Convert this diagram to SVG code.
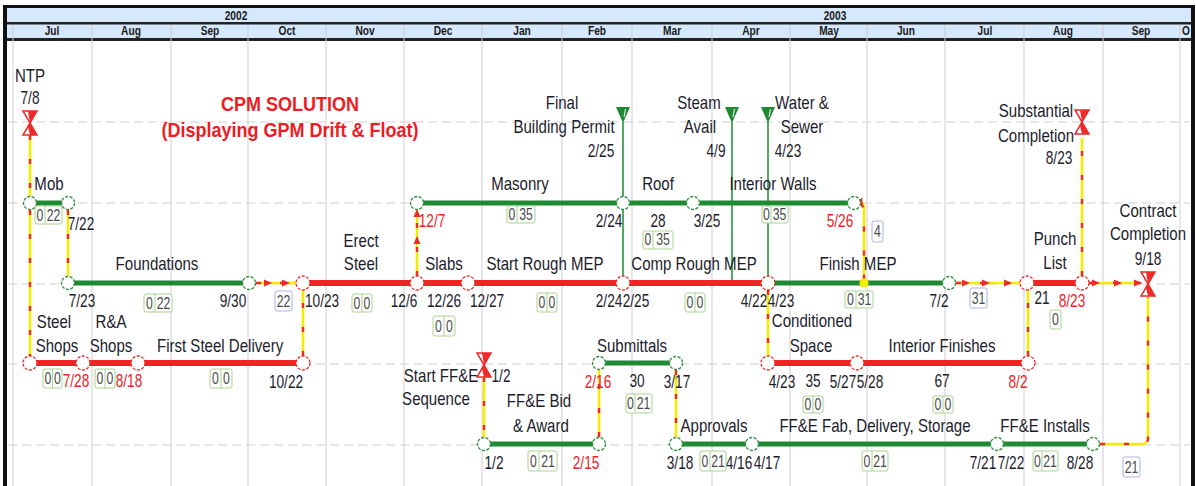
<svg xmlns="http://www.w3.org/2000/svg" xmlns:xlink="http://www.w3.org/1999/xlink" width="1196" height="486" viewBox="0 0 1196 486">
<style>
text{font-family:"Liberation Sans",Arial,sans-serif;text-anchor:middle;transform-box:fill-box;transform-origin:center}
.t{font-size:17.5px;fill:#1c1c2c;transform:scaleX(.86)}
.d{transform:scaleX(.78)}
.r{fill:#ee2227}
.ti{font-size:20px;font-weight:bold;fill:#ee1c24;transform:scaleX(.9)}
.hd{font-size:12px;font-weight:bold;fill:#1a1a1a;transform:scaleX(.85)}
.fn{font-size:17px;fill:#4a4a4a;transform:scaleX(.72)}
.fb{fill:#fff;stroke:#a9d38f;stroke-width:1}
.bb{fill:#fff;stroke:#aab4e2;stroke-width:1}
.grid{stroke:#cfcfcf;stroke-width:1}
.hgrid{stroke:#cfcfcf;stroke-width:1;stroke-dasharray:9 5}
.gb{stroke:#1e8b34;stroke-width:5}
.rb{stroke:#ee2524;stroke-width:6}
.gn{fill:#fff;stroke:#2a8c3c;stroke-width:1.3;stroke-dasharray:3 1.5}
.rn{fill:#fff;stroke:#ee2a2a;stroke-width:1.3;stroke-dasharray:3 1.5}
.cy{fill:none;stroke:#f3ec00;stroke-width:2.6}
.cd{fill:none;stroke:#ee2a2a;stroke-width:2.4;stroke-dasharray:5 19}
.gl{stroke:#1e8b34;stroke-width:1.5}
</style>
<defs>
<marker id="ar" viewBox="0 0 8 8" refX="4" refY="4" markerWidth="8" markerHeight="8" markerUnits="userSpaceOnUse" orient="auto"><path d="M0,0.5 L8,4 L0,7.5z" fill="#ee2a2a"/></marker>
<g id="hg">
<polygon points="-7,-12 7,-12 0,0" fill="#fff" stroke="#ee2a2a" stroke-width="1.5"/>
<polygon points="-2,-12 7,-12 0,0" fill="#ee2a2a"/>
<polygon points="-7,12 7,12 0,0" fill="#fff" stroke="#ee2a2a" stroke-width="1.5"/>
<polygon points="0,12 7,12 0,0 -2,4" fill="#ee2a2a"/>
</g>
<g id="gm">
<polygon points="-7,0 7,0 0,16" fill="#1e8b34"/>
<line x1="2.5" y1="2" x2="1" y2="10" stroke="#fff" stroke-width="1"/>
</g>
</defs>

<rect width="1196" height="486" fill="#fff"/>

<g id="header">
<rect x="4" y="8" width="1187" height="14" fill="#d6e8fb"/>
<rect x="4" y="24" width="1187" height="14" fill="#d6e8fb"/>
<rect x="3" y="5" width="1192" height="3" fill="#111"/>
<rect x="3" y="22" width="1189" height="2.5" fill="#222"/>
<rect x="3" y="38" width="1189" height="3" fill="#222"/>
<rect x="3" y="5" width="4" height="481" fill="#111"/>
<rect x="1191" y="5" width="4" height="481" fill="#111"/>
<text class="hd" x="236" y="20">2002</text>
<text class="hd" x="835" y="20">2003</text>
<text class="hd" x="52" y="35">Jul</text>
<text class="hd" x="131" y="35">Aug</text>
<text class="hd" x="210" y="35">Sep</text>
<text class="hd" x="287" y="35">Oct</text>
<text class="hd" x="365" y="35">Nov</text>
<text class="hd" x="443" y="35">Dec</text>
<text class="hd" x="522" y="35">Jan</text>
<text class="hd" x="597" y="35">Feb</text>
<text class="hd" x="672" y="35">Mar</text>
<text class="hd" x="751" y="35">Apr</text>
<text class="hd" x="829" y="35">May</text>
<text class="hd" x="906" y="35">Jun</text>
<text class="hd" x="985" y="35">Jul</text>
<text class="hd" x="1063" y="35">Aug</text>
<text class="hd" x="1141" y="35">Sep</text>
<text class="hd" x="1186" y="35">O</text>
</g>

<g id="grid">
<path class="grid" d="M13 25V486M92 25V486M171 25V486M248 25V486M326 25V486M404 25V486M482 25V486M562 25V486M632 25V486M712 25V486M790 25V486M867 25V486M945 25V486M1024 25V486M1103 25V486M1180 25V486"/>
<path class="hgrid" d="M8 122H1190M8 203H1190M8 284H1190M8 364H1190M8 445H1190"/>
</g>

<g id="title">
<text class="ti" x="290" y="111">CPM SOLUTION</text>
<text class="ti" x="290" y="137">(Displaying GPM Drift &amp; Float)</text>
</g>

<g id="connectors">
<path class="gl" d="M623 122V276M732 122V283M768 122V276"/>
<path class="cy" d="M30 135V196"/><path class="cd" d="M30 135V196"/>
<path class="cy" d="M30 210V356"/><path class="cd" d="M30 210V356"/>
<path class="cy" d="M68 210V276"/><path class="cd" d="M68 210V276"/>
<path class="cy" d="M256 283H296"/><path class="cd" d="M256 283L268 283L286 283L296 283" marker-mid="url(#ar)"/>
<path class="cy" d="M303 356V290"/><path class="cd" d="M303 356V290"/>
<path class="cy" d="M417 276V210"/><path class="cd" d="M417 276L417 240L417 213L417 210" marker-mid="url(#ar)"/>
<path class="cy" d="M861 203H860Q864 203 864 208V283"/><path class="cd" d="M861 203L862 205L864 210V283" marker-start="url(#ar)"/>
<path class="cy" d="M768 290V356"/><path class="cd" d="M768 290V356"/>
<path class="cy" d="M956 283H1020"/><path class="cd" d="M956 283L966 283L986 283L1008 283L1020 283" marker-mid="url(#ar)"/>
<path class="cy" d="M1028 356V290"/><path class="cd" d="M1028 356V290"/>
<path class="cy" d="M1082 276V138"/><path class="cd" d="M1082 276V138"/>
<path class="cy" d="M1089 283H1141"/><path class="cd" d="M1089 283L1096 283L1118 283L1138 283L1141 283" marker-mid="url(#ar)"/>
<path class="cy" d="M1100 444H1142Q1148 444 1148 438V297"/><path class="cd" d="M1100 444H1142Q1148 444 1148 438V297"/>
<path class="cy" d="M484 377V437"/><path class="cd" d="M484 377V437"/>
<path class="cy" d="M599 437V370"/><path class="cd" d="M599 437V370"/>
<path class="cy" d="M676 370V437"/><path class="cd" d="M676 370V437"/>
</g>

<g id="ntp">
<use href="#hg" x="30" y="123"/>
<text class="t" x="30" y="82">NTP</text>
<text class="t d" x="30" y="104">7/8</text>
</g>

<g id="mob">
<line class="gb" x1="30" y1="203" x2="68" y2="203"/>
<circle class="gn" cx="30" cy="203" r="6.5"/>
<circle class="gn" cx="68" cy="203" r="6.5"/>
<text class="t" x="49" y="190">Mob</text>
<text class="t d" x="81" y="230">7/22</text>
<rect class="fb" x="35" y="206" width="27" height="18" rx="2"/><line class="fb" x1="45" y1="206" x2="45" y2="224"/>
<text class="fn" x="40" y="221">0</text><text class="fn" x="53.5" y="221">22</text>
</g>

<g id="foundations">
<line class="gb" x1="68" y1="283" x2="249" y2="283"/>
<circle class="gn" cx="68" cy="283" r="6.5"/>
<circle class="gn" cx="249" cy="283" r="6.5"/>
<text class="t" x="157" y="270">Foundations</text>
<text class="t d" x="82" y="307">7/23</text>
<text class="t d" x="233" y="307">9/30</text>
<rect class="fb" x="144" y="294" width="28" height="18" rx="2"/><line class="fb" x1="155" y1="294" x2="155" y2="312"/>
<text class="fn" x="149.5" y="309">0</text><text class="fn" x="163.5" y="309">22</text>
<rect class="bb" x="275" y="291" width="17" height="20" rx="2"/>
<text class="fn" x="283.5" y="307">22</text>
</g>

<g id="erect-steel">
<line class="rb" x1="303" y1="283" x2="417" y2="283"/>
<circle class="rn" cx="303" cy="283" r="7"/>
<text class="t" x="361" y="247">Erect</text>
<text class="t" x="361" y="270">Steel</text>
<text class="t d" x="322" y="307">10/23</text>
<text class="t d" x="404" y="307">12/6</text>
<rect class="fb" x="352" y="294" width="20" height="18" rx="2"/><line class="fb" x1="362" y1="294" x2="362" y2="312"/>
<text class="fn" x="357" y="309">0</text><text class="fn" x="367" y="309">0</text>
</g>

<g id="steel-shops">
<line class="rb" x1="30" y1="363" x2="83" y2="363"/>
<circle class="rn" cx="30" cy="363" r="7"/>
<text class="t" x="54" y="328">Steel</text>
<text class="t" x="57" y="352">Shops</text>
<text class="t d r" x="76" y="387">7/28</text>
<rect class="fb" x="43" y="369" width="19" height="19" rx="2"/><line class="fb" x1="52.5" y1="369" x2="52.5" y2="388"/>
<text class="fn" x="48" y="384">0</text><text class="fn" x="57.5" y="384">0</text>
</g>

<g id="ra-shops">
<line class="rb" x1="83" y1="363" x2="138" y2="363"/>
<circle class="rn" cx="83" cy="363" r="7"/>
<text class="t" x="111" y="328">R&amp;A</text>
<text class="t" x="111" y="352">Shops</text>
<text class="t d r" x="129" y="387">8/18</text>
<rect class="fb" x="95" y="369" width="20" height="19" rx="2"/><line class="fb" x1="105" y1="369" x2="105" y2="388"/>
<text class="fn" x="100" y="384">0</text><text class="fn" x="110" y="384">0</text>
</g>

<g id="first-steel-delivery">
<line class="rb" x1="138" y1="363" x2="303" y2="363"/>
<circle class="rn" cx="138" cy="363" r="7"/>
<circle class="rn" cx="303" cy="363" r="7"/>
<text class="t" x="220" y="352">First Steel Delivery</text>
<text class="t d" x="286" y="388">10/22</text>
<rect class="fb" x="210" y="369" width="22" height="19" rx="2"/><line class="fb" x1="221" y1="369" x2="221" y2="388"/>
<text class="fn" x="215.5" y="384">0</text><text class="fn" x="226.5" y="384">0</text>
</g>

<g id="slabs">
<line class="rb" x1="417" y1="283" x2="468" y2="283"/>
<circle class="rn" cx="417" cy="283" r="7"/>
<text class="t" x="444" y="270">Slabs</text>
<text class="t d" x="444" y="307">12/26</text>
<rect class="fb" x="433" y="316" width="22" height="20" rx="2"/><line class="fb" x1="444" y1="316" x2="444" y2="336"/>
<text class="fn" x="438.5" y="332">0</text><text class="fn" x="449.5" y="332">0</text>
</g>

<g id="start-rough-mep">
<line class="rb" x1="468" y1="283" x2="623" y2="283"/>
<circle class="rn" cx="468" cy="283" r="7"/>
<text class="t" x="545" y="270">Start Rough MEP</text>
<text class="t d" x="487" y="307">12/27</text>
<text class="t d" x="609" y="307">2/24</text>
<rect class="fb" x="537" y="293" width="20" height="19" rx="2"/><line class="fb" x1="547" y1="293" x2="547" y2="312"/>
<text class="fn" x="542" y="308">0</text><text class="fn" x="552" y="308">0</text>
</g>

<g id="comp-rough-mep">
<line class="rb" x1="623" y1="283" x2="768" y2="283"/>
<circle class="rn" cx="623" cy="283" r="7"/>
<circle class="rn" cx="768" cy="283" r="7"/>
<text class="t" x="694" y="270">Comp Rough MEP</text>
<text class="t d" x="636" y="307">2/25</text>
<text class="t d" x="754" y="307">4/22</text>
<rect class="fb" x="685" y="293" width="20" height="19" rx="2"/><line class="fb" x1="695" y1="293" x2="695" y2="312"/>
<text class="fn" x="690" y="308">0</text><text class="fn" x="700" y="308">0</text>
</g>

<g id="finish-mep">
<line class="gb" x1="775" y1="283" x2="949" y2="283"/>
<circle class="gn" cx="949" cy="283" r="6.5"/>
<circle cx="864" cy="283" r="4.5" fill="#f3ec00"/>
<text class="t" x="858" y="270">Finish MEP</text>
<text class="t d" x="781" y="307">4/23</text>
<text class="t d" x="939" y="307">7/2</text>
<rect class="fb" x="845" y="291" width="28" height="17" rx="2"/><line class="fb" x1="856" y1="291" x2="856" y2="308"/>
<text class="fn" x="850.5" y="305">0</text><text class="fn" x="864.5" y="305">31</text>
<rect class="bb" x="970" y="288" width="17" height="20" rx="2"/>
<text class="fn" x="978.5" y="304">31</text>
</g>

<g id="punch-list">
<line class="rb" x1="1027" y1="283" x2="1082" y2="283"/>
<circle class="rn" cx="1027" cy="283" r="7"/>
<circle class="rn" cx="1082" cy="283" r="7"/>
<text class="t" x="1055" y="245">Punch</text>
<text class="t" x="1055" y="269">List</text>
<text class="t d" x="1042" y="304">21</text>
<text class="t d r" x="1072" y="307">8/23</text>
<rect class="fb" x="1050" y="310" width="11" height="19" rx="2"/>
<text class="fn" x="1055.5" y="325">0</text>
</g>

<g id="masonry">
<line class="gb" x1="417" y1="203" x2="623" y2="203"/>
<circle class="gn" cx="417" cy="203" r="6.5"/>
<circle class="gn" cx="623" cy="203" r="6.5"/>
<text class="t" x="520" y="190">Masonry</text>
<text class="t d r" x="432" y="227">12/7</text>
<text class="t d" x="609" y="227">2/24</text>
<rect class="fb" x="507" y="206" width="28" height="17" rx="2"/><line class="fb" x1="517" y1="206" x2="517" y2="223"/>
<text class="fn" x="512" y="220">0</text><text class="fn" x="526" y="220">35</text>
</g>

<g id="roof">
<line class="gb" x1="630" y1="203" x2="693" y2="203"/>
<circle class="gn" cx="693" cy="203" r="6.5"/>
<text class="t" x="658" y="190">Roof</text>
<text class="t d" x="658" y="227">28</text>
<text class="t d" x="707" y="227">3/25</text>
<rect class="fb" x="643" y="231" width="30" height="18" rx="2"/><line class="fb" x1="653" y1="231" x2="653" y2="249"/>
<text class="fn" x="648" y="245">0</text><text class="fn" x="663" y="245">35</text>
</g>

<g id="interior-walls">
<line class="gb" x1="700" y1="203" x2="854" y2="203"/>
<circle class="gn" cx="854" cy="203" r="6.5"/>
<text class="t" x="773" y="190">Interior Walls</text>
<text class="t d r" x="840" y="227">5/26</text>
<rect class="fb" x="762" y="206" width="26" height="17" rx="2"/><line class="fb" x1="771" y1="206" x2="771" y2="223"/>
<text class="fn" x="766.5" y="220">0</text><text class="fn" x="779.5" y="220">35</text>
<rect class="bb" x="872" y="221" width="11" height="21" rx="2"/>
<text class="fn" x="877.5" y="237">4</text>
</g>

<g id="final-building-permit">
<use href="#gm" x="623" y="107"/>
<text class="t" x="562" y="109">Final</text>
<text class="t" x="564" y="133">Building Permit</text>
<text class="t d" x="601" y="157">2/25</text>
</g>

<g id="steam-avail">
<use href="#gm" x="732" y="107"/>
<text class="t" x="699" y="109">Steam</text>
<text class="t" x="700" y="133">Avail</text>
<text class="t d" x="716" y="157">4/9</text>
</g>

<g id="water-sewer">
<use href="#gm" x="768" y="107"/>
<text class="t" x="802" y="109">Water &amp;</text>
<text class="t" x="802" y="133">Sewer</text>
<text class="t d" x="788" y="157">4/23</text>
</g>

<g id="substantial-completion">
<use href="#hg" x="1082" y="122"/>
<text class="t" x="1036" y="117">Substantial</text>
<text class="t" x="1036" y="142">Completion</text>
<text class="t d" x="1059" y="164">8/23</text>
</g>

<g id="contract-completion">
<use href="#hg" x="1148" y="284"/>
<text class="t" x="1148" y="217">Contract</text>
<text class="t" x="1148" y="240">Completion</text>
<text class="t d" x="1148" y="265">9/18</text>
</g>

<g id="conditioned-space">
<line class="rb" x1="768" y1="363" x2="857" y2="363"/>
<circle class="rn" cx="768" cy="363" r="7"/>
<text class="t" x="812" y="327">Conditioned</text>
<text class="t" x="811" y="352">Space</text>
<text class="t d" x="782" y="388">4/23</text>
<text class="t d" x="813" y="387">35</text>
<text class="t d" x="843" y="388">5/27</text>
<rect class="fb" x="803" y="396" width="20" height="17" rx="2"/><line class="fb" x1="813" y1="396" x2="813" y2="413"/>
<text class="fn" x="808" y="410">0</text><text class="fn" x="818" y="410">0</text>
</g>

<g id="interior-finishes">
<line class="rb" x1="857" y1="363" x2="1028" y2="363"/>
<circle class="rn" cx="857" cy="363" r="7"/>
<circle class="rn" cx="1028" cy="363" r="7"/>
<text class="t" x="942" y="352">Interior Finishes</text>
<text class="t d" x="870" y="388">5/28</text>
<text class="t d" x="942" y="387">67</text>
<text class="t d r" x="1018" y="388">8/2</text>
<rect class="fb" x="933" y="396" width="20" height="17" rx="2"/><line class="fb" x1="943" y1="396" x2="943" y2="413"/>
<text class="fn" x="938" y="410">0</text><text class="fn" x="948" y="410">0</text>
</g>

<g id="submittals">
<line class="gb" x1="599" y1="363" x2="676" y2="363"/>
<circle class="gn" cx="599" cy="363" r="6.5"/>
<circle class="gn" cx="676" cy="363" r="6.5"/>
<text class="t" x="632" y="352">Submittals</text>
<text class="t d r" x="598" y="388">2/16</text>
<text class="t d" x="637" y="387">30</text>
<text class="t d" x="677" y="388">3/17</text>
<rect class="fb" x="626" y="394" width="26" height="19" rx="2"/><line class="fb" x1="635" y1="394" x2="635" y2="413"/>
<text class="fn" x="630.5" y="409">0</text><text class="fn" x="643.5" y="409">21</text>
</g>

<g id="start-ffe-sequence">
<use href="#hg" x="484" y="365"/>
<text class="t" x="441" y="382">Start FF&amp;E</text>
<text class="t" x="436" y="405">Sequence</text>
<text class="t d" x="501" y="382">1/2</text>
</g>

<g id="ffe-bid-award">
<line class="gb" x1="484" y1="444" x2="599" y2="444"/>
<circle class="gn" cx="484" cy="444" r="6.5"/>
<circle class="gn" cx="599" cy="444" r="6.5"/>
<text class="t" x="539" y="407">FF&amp;E Bid</text>
<text class="t" x="541" y="432">&amp; Award</text>
<text class="t d" x="494" y="469">1/2</text>
<text class="t d r" x="586" y="469">2/15</text>
<rect class="fb" x="528" y="451" width="29" height="20" rx="2"/><line class="fb" x1="539" y1="451" x2="539" y2="471"/>
<text class="fn" x="533.5" y="467">0</text><text class="fn" x="548" y="467">21</text>
</g>

<g id="approvals">
<line class="gb" x1="676" y1="444" x2="752" y2="444"/>
<circle class="gn" cx="676" cy="444" r="6.5"/>
<text class="t" x="714" y="432">Approvals</text>
<text class="t d" x="680" y="469">3/18</text>
<text class="t d" x="739" y="469">4/16</text>
<rect class="fb" x="700" y="451" width="26" height="20" rx="2"/><line class="fb" x1="710" y1="451" x2="710" y2="471"/>
<text class="fn" x="705" y="467">0</text><text class="fn" x="718" y="467">21</text>
</g>

<g id="ffe-fab">
<line class="gb" x1="752" y1="444" x2="997" y2="444"/>
<circle class="gn" cx="752" cy="444" r="6.5"/>
<text class="t" x="875" y="432">FF&amp;E Fab, Delivery, Storage</text>
<text class="t d" x="767" y="469">4/17</text>
<text class="t d" x="983" y="469">7/21</text>
<rect class="fb" x="862" y="451" width="26" height="20" rx="2"/><line class="fb" x1="872" y1="451" x2="872" y2="471"/>
<text class="fn" x="867" y="467">0</text><text class="fn" x="880" y="467">21</text>
</g>

<g id="ffe-installs">
<line class="gb" x1="997" y1="444" x2="1093" y2="444"/>
<circle class="gn" cx="997" cy="444" r="6.5"/>
<circle class="gn" cx="1093" cy="444" r="6.5"/>
<text class="t" x="1045" y="432">FF&amp;E Installs</text>
<text class="t d" x="1011" y="469">7/22</text>
<text class="t d" x="1080" y="469">8/28</text>
<rect class="fb" x="1033" y="451" width="25" height="20" rx="2"/><line class="fb" x1="1042" y1="451" x2="1042" y2="471"/>
<text class="fn" x="1037.5" y="467">0</text><text class="fn" x="1050" y="467">21</text>
<rect class="bb" x="1123" y="457" width="17" height="20" rx="2"/>
<text class="fn" x="1131.5" y="473">21</text>
</g>
</svg>
